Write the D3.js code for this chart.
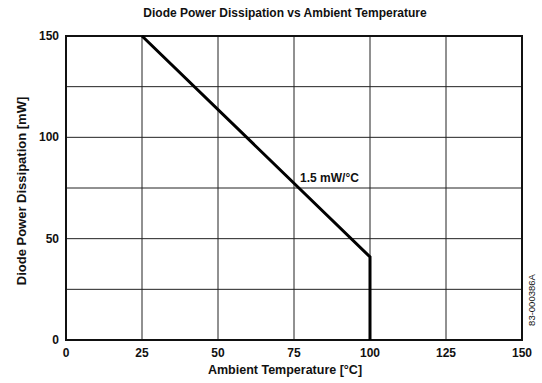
<!DOCTYPE html>
<html>
<head>
<meta charset="utf-8">
<script src="https://cdn.jsdelivr.net/npm/d3@7"></script>
<style>
  body { margin: 0; background: #fff; }
  text { font-family: 'Liberation Sans', Arial, sans-serif; fill: #111; }
</style>
</head>
<body>
<script>
var width = 542
var height = 383
var margin = { top: 36, bottom: 43, left: 66, right: 20 }

// derating curve (°C, mW)
var temps = [25, 100, 100]
var power = [150, 41, 0]
var xTicks = [0, 25, 50, 75, 100, 125, 150]
var yTicks = [0, 25, 50, 75, 100, 125, 150]
var yLabels = [0, 50, 100, 150]

var data = temps.map((t, i) => ({ t: t, p: power[i] }))

var xScale = d3.scaleLinear()
               .domain([0, 150])
               .range([margin.left, width - margin.right])
var yScale = d3.scaleLinear()
               .domain([0, 150])
               .range([height - margin.bottom, margin.top])

var svg = d3.select('body').append('svg')
            .attr('width', width)
            .attr('height', height)

// grid
svg.append('g').selectAll('line').data(xTicks.slice(1, -1)).enter().append('line')
   .attr('x1', d => xScale(d)).attr('x2', d => xScale(d))
   .attr('y1', yScale(0)).attr('y2', yScale(150))
   .attr('stroke', '#222').attr('stroke-width', 1)
svg.append('g').selectAll('line').data(yTicks.slice(1, -1)).enter().append('line')
   .attr('y1', d => yScale(d)).attr('y2', d => yScale(d))
   .attr('x1', xScale(0)).attr('x2', xScale(150))
   .attr('stroke', '#222').attr('stroke-width', 1)

// frame
svg.append('rect')
   .attr('x', xScale(0)).attr('y', yScale(150))
   .attr('width', xScale(150) - xScale(0))
   .attr('height', yScale(0) - yScale(150))
   .attr('fill', 'none').attr('stroke', '#111').attr('stroke-width', 2)

var line = d3.line().x(d => xScale(d.t)).y(d => yScale(d.p))
svg.append('path')
   .attr('d', line(data))
   .attr('fill', 'none')
   .attr('stroke', '#000')
   .attr('stroke-width', 3)

// tick labels
svg.append('g').selectAll('text').data(xTicks).enter().append('text')
   .attr('x', d => xScale(d)).attr('y', yScale(0) + 17)
   .attr('text-anchor', 'middle')
   .style('font-size', '12px').style('font-weight', 'bold')
   .text(d => d)
svg.append('g').selectAll('text').data(yLabels).enter().append('text')
   .attr('x', xScale(0) - 7).attr('y', d => yScale(d) + 4)
   .attr('text-anchor', 'end')
   .style('font-size', '12px').style('font-weight', 'bold')
   .text(d => d)

// titles
svg.append('text')
   .attr('x', 285).attr('y', 17)
   .attr('text-anchor', 'middle')
   .style('font-size', '12px').style('font-weight', 'bold')
   .text('Diode Power Dissipation vs Ambient Temperature')
svg.append('text')
   .attr('x', 285).attr('y', 374)
   .attr('text-anchor', 'middle')
   .style('font-size', '12.5px').style('font-weight', 'bold')
   .text('Ambient Temperature [°C]')
svg.append('text')
   .attr('transform', 'translate(' + [26, 191] + ') rotate(-90)')
   .attr('text-anchor', 'middle')
   .style('font-size', '13px').style('font-weight', 'bold')
   .text('Diode Power Dissipation [mW]')

svg.append('text')
   .attr('x', xScale(77)).attr('y', yScale(78))
   .style('font-size', '12px').style('font-weight', 'bold')
   .text('1.5 mW/°C')

svg.append('text')
   .attr('transform', 'translate(' + [535, 300] + ') rotate(-90)')
   .attr('text-anchor', 'middle')
   .style('font-size', '9.5px')
   .text('83-000386A')
</script>
</body>
</html>
